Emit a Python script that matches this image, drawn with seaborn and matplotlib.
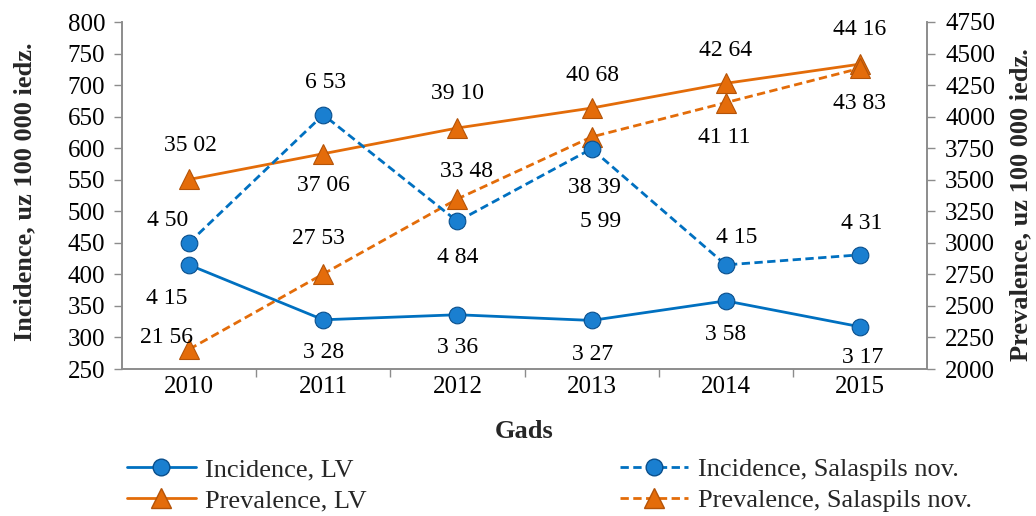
import matplotlib
matplotlib.use("Agg")
import matplotlib.pyplot as plt
import seaborn as sns
import pandas as pd
from matplotlib.lines import Line2D

years = [2010, 2011, 2012, 2013, 2014, 2015]
inc_lv = [415, 328, 336, 327, 358, 317]
inc_sal = [450, 653, 484, 599, 415, 431]
prev_lv = [3502, 3706, 3910, 4068, 4264, 4416]
prev_sal = [2156, 2753, 3348, 3839, 4111, 4383]

names = ["Incidence, LV", "Incidence, Salaspils nov.", "Prevalence, LV", "Prevalence, Salaspils nov."]

sns.set_theme(style="white")
plt.rcParams['font.family'] = ['Liberation Serif', 'DejaVu Serif']

BLUE = "#0070C0"
ORANGE = "#E36C09"
GRAY = "#8C8C8C"
FS_TICK = 18
FS_DATA = 17
FS_LAB = 19
FS_LEG = 19

fig = plt.figure(figsize=(10.36, 5.16), dpi=100)
ax = fig.add_axes([122/1036, 1-369/516, (927-122)/1036, (369-22)/516])
ax2 = ax.twinx()

df_inc = pd.DataFrame({"year": years * 2, "value": inc_lv + inc_sal,
                       "series": [names[0]] * 6 + [names[1]] * 6})
df_prev = pd.DataFrame({"year": years * 2, "value": prev_lv + prev_sal,
                        "series": [names[2]] * 6 + [names[3]] * 6})

sns.lineplot(data=df_inc, x="year", y="value", hue="series", style="series",
             palette=[BLUE, BLUE], dashes=[(None, None), (3, 1.6)],
             markers=["o", "o"], markersize=12, linewidth=2, ax=ax, legend=False,
             markeredgecolor="#0A4F8C", markerfacecolor="#1A7FD0", markeredgewidth=0.8)
sns.lineplot(data=df_prev, x="year", y="value", hue="series", style="series",
             palette=[ORANGE, ORANGE], dashes=[(None, None), (3, 1.6)],
             markers=["^", "^"], markersize=15, linewidth=2, ax=ax2, legend=False,
             markeredgecolor="#B45308", markerfacecolor="#E46C0A", markeredgewidth=0.8)

ax.set_zorder(ax2.get_zorder() + 1)
ax.patch.set_visible(False)

def fmt(v):
    return f"{v // 100} {v % 100:02d}"

offs_inc_lv = [(-22, -34), (0, -33), (0, -33), (1, -34), (0, -34), (3, -31)]
offs_inc_sal = [(-21, 22), (2, 32), (0, -36), (9, -73), (11, 27), (2, 31)]
offs_prev_lv = [(1, 34), (0, -32), (0, 34), (1, 33), (0, 33), (0, 35)]
offs_prev_sal = [(-23, 12), (-5, 35), (9, 27), (3, -51), (-2, -35), (0, -35)]

for a, vals, offs in [(ax, inc_lv, offs_inc_lv), (ax, inc_sal, offs_inc_sal),
                      (ax2, prev_lv, offs_prev_lv), (ax2, prev_sal, offs_prev_sal)]:
    for x, v, (dx, dy) in zip(years, vals, offs):
        a.annotate(fmt(v), (x, v), xytext=(dx, dy), textcoords="offset pixels",
                   ha="center", va="center", fontsize=FS_DATA, color="black", zorder=10)

ax.set_xlim(2009.5, 2015.5)
ax.set_ylim(250, 800)
ax2.set_ylim(2000, 4750)
ax.set_yticks(range(250, 801, 50))
ax2.set_yticks(range(2000, 4751, 250))
ax.set_xticks(years)
ax.set_xticks([y + 0.5 for y in years[:-1]], minor=True)
ax.tick_params(axis="x", which="major", length=0, labelsize=FS_TICK, pad=5, colors="black")
ax.tick_params(axis="x", which="minor", length=6, width=1, color=GRAY, direction="out", bottom=True)
ax.tick_params(axis="y", length=6, width=1, color=GRAY, labelsize=FS_TICK, direction="out", left=True, labelcolor="black", pad=6)
ax2.tick_params(axis="y", length=6, width=1, color=GRAY, labelsize=FS_TICK, direction="out", right=True, labelcolor="black", pad=7)

for a in (ax, ax2):
    a.grid(False)
    for s in ["left", "right", "bottom"]:
        a.spines[s].set_visible(True)
        a.spines[s].set_color(GRAY)
        a.spines[s].set_linewidth(1.2)
    a.spines["top"].set_visible(False)

ax.set_xlabel("Gads", fontsize=FS_LAB, fontweight="bold")
ax.xaxis.set_label_coords(0.5, -(432-369)/347, transform=ax.transAxes)
ax.set_ylabel("Incidence, uz 100 000 iedz.", fontsize=FS_LAB, fontweight="bold")
ax.yaxis.set_label_coords(-(122-25)/805, (369-192)/347, transform=ax.transAxes)
ax2.set_ylabel("Prevalence, uz 100 000 iedz.", fontsize=FS_LAB, fontweight="bold")
ax2.yaxis.set_label_coords(1+(1021-927)/805, (369-205)/347, transform=ax2.transAxes)
ax.xaxis.label.set_va("center")
ax.yaxis.label.set_va("center")
ax2.yaxis.label.set_va("center")

handles = [
    Line2D([], [], color=BLUE, lw=2, marker="o", ms=12, mfc="#1A7FD0", mec="#0A4F8C"),
    Line2D([], [], color=ORANGE, lw=2, marker="^", ms=15, mfc="#E46C0A", mec="#B45308"),
    Line2D([], [], color=BLUE, lw=2, ls=(0, (3, 1.6)), marker="o", ms=12, mfc="#1A7FD0", mec="#0A4F8C"),
    Line2D([], [], color=ORANGE, lw=2, ls=(0, (3, 1.6)), marker="^", ms=15, mfc="#E46C0A", mec="#B45308"),
]
labels = [names[0], names[2], names[1], names[3]]
fig.legend(handles, labels, loc="center left", bbox_to_anchor=(127/1036, 1-485/516), ncol=2,
           frameon=False, fontsize=FS_LEG, handlelength=2.6, handletextpad=0.35,
           columnspacing=9.6, labelspacing=0.3, borderpad=0, borderaxespad=0)

fig.savefig("out.png", dpi=100)
